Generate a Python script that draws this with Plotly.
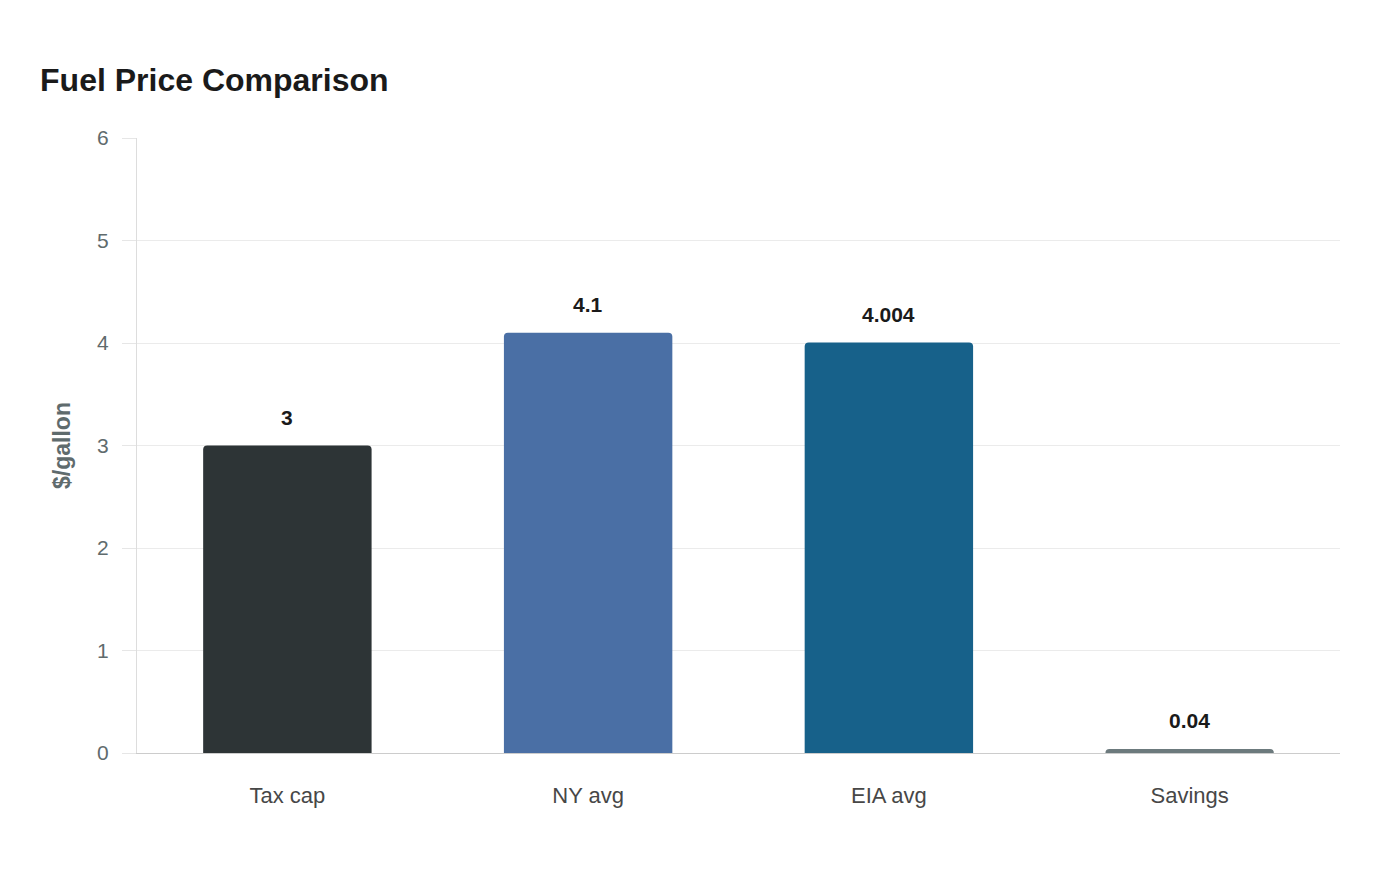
"""Fuel price comparison bar chart"""

import plotly.graph_objects as go

categories = ["Tax cap", "NY avg", "EIA avg", "Savings"]
prices = [3, 4.1, 4.004, 0.04]
labels = ["3", "4.1", "4.004", "0.04"]
bar_colors = ["#2d3436", "#4a6fa5", "#17618a", "#6c7a7d"]

FONT = "Liberation Sans, Arial, sans-serif"

fig = go.Figure()
fig.add_trace(go.Bar(
    x=categories,
    y=prices,
    marker=dict(color=bar_colors, line=dict(width=0)),
    hoverinfo="x+y",
))

# value labels above each bar
for cat, val, lab in zip(categories, prices, labels):
    fig.add_annotation(x=cat, y=val, text="<b>%s</b>" % lab, showarrow=False,
                       yanchor="bottom", yshift=15,
                       font=dict(family=FONT, size=21, color="#1a1a1a"))

fig.update_layout(
    width=1400, height=880,
    margin=dict(l=129, r=68, t=130, b=135),
    paper_bgcolor="white",
    plot_bgcolor="white",
    bargap=0.44,
    barcornerradius=4,
    showlegend=False,
    font=dict(family=FONT),
    title=dict(text="<b>Fuel Price Comparison</b>", x=0.0229, xanchor="left",
               y=0.918, yanchor="middle",
               font=dict(family=FONT, size=32, color="#1a1a1a")),
)
fig.update_xaxes(
    showgrid=False,
    showline=True, linecolor="#cccccc", linewidth=1,
    ticks="", tickfont=dict(family=FONT, size=22, color="#474747"),
    ticklabelstandoff=23,
)
fig.update_yaxes(
    range=[0, 6], dtick=1,
    showgrid=True, gridcolor="#ebebeb", gridwidth=1,
    zeroline=False,
    showline=True, linecolor="#dddddd", linewidth=1,
    ticks="outside", ticklen=14, tickcolor="#e6e6e6",
    tickfont=dict(family=FONT, size=21, color="#5f6b6d"),
    ticklabelstandoff=9,
    title=dict(text="<b>$/gallon</b>", standoff=20,
               font=dict(family=FONT, size=23, color="#5f6b6d")),
)

fig.write_html("out.html")
